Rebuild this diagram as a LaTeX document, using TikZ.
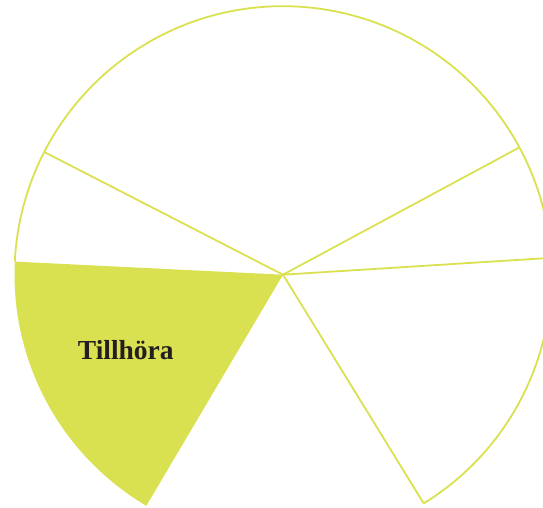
\documentclass[tikz,border=0pt]{standalone}
\usepackage{fontspec}
\setmainfont{Liberation Serif}
\definecolor{pie}{RGB}{218,225,80}
\definecolor{txt}{RGB}{35,31,32}
\begin{document}
\begin{tikzpicture}[x=1pt,y=1pt,
  seg/.style={draw=pie, line width=1.8pt},
  lbl/.style={font=\bfseries\fontsize{27.5}{30}\selectfont, text=txt, inner sep=0pt}]
\useasboundingbox (0,0) rectangle (543,507);
\clip (0,0) rectangle (543,507);
\def\R{268.5}
\coordinate (c) at (283,232.3);
\coordinate (p1) at ([shift={(152.8:\R)}]c);
\coordinate (p2) at ([shift={(28.3:\R)}]c);
\coordinate (p3) at ([shift={(3.6:\R)}]c);
\coordinate (p4) at ([shift={(-58.4:\R)}]c);
\coordinate (p5) at ([shift={(239.4:\R)}]c);
\coordinate (p6) at ([shift={(177.2:\R)}]c);
% filled sector
\fill[pie] (c) -- (p6) arc[start angle=177.2, end angle=239.4, radius=\R] -- cycle;
% outline arc
\draw[seg] (p4) arc[start angle=-58.4, end angle=177.2, radius=\R];
% spokes
\draw[seg] (c) -- (p1);
\draw[seg] (c) -- (p2);
\draw[seg] (c) -- (p3);
\draw[seg] (c) -- (p4);
\node[lbl, anchor=base] (t) at (125.8,147.7) {Tillhöra};
\end{tikzpicture}
\end{document}
